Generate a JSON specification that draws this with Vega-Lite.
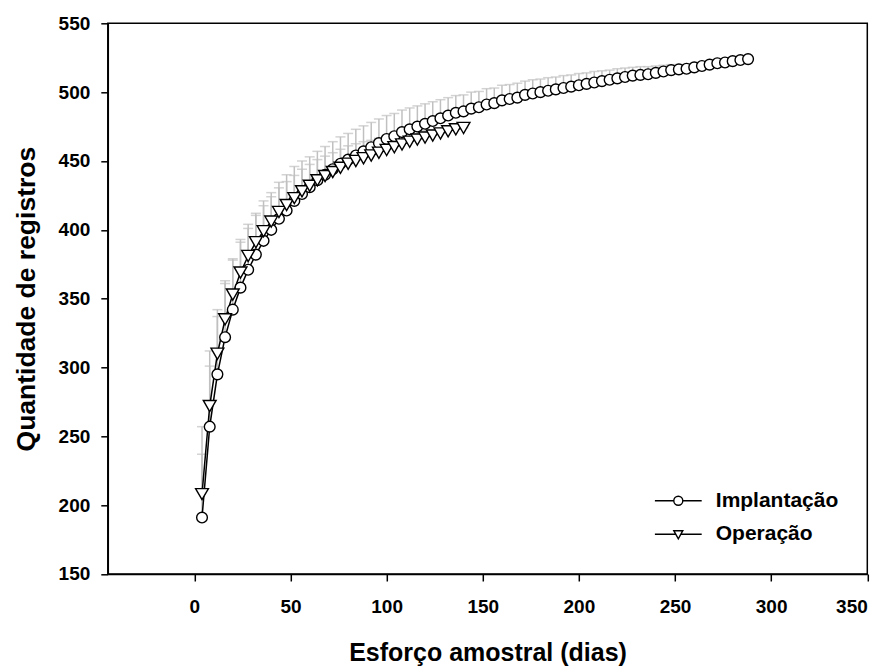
{
  "$schema": "https://vega.github.io/schema/vega-lite/v6.json",
  "width": 759.5,
  "height": 550.7,
  "autosize": "none",
  "padding": {"left": 107.8, "top": 23.3, "right": 20, "bottom": 92},
  "background": "white",
  "config": {
    "font": "Liberation Sans",
    "view": {"stroke": "black", "strokeWidth": 1.5},
    "axis": {
      "grid": false,
      "domainColor": "black",
      "domainWidth": 1.5,
      "tickColor": "black",
      "tickWidth": 1.5,
      "tickSize": 7,
      "labelFont": "Liberation Sans",
      "labelFontWeight": "bold",
      "labelFontSize": 19,
      "labelColor": "black",
      "titleFont": "Liberation Sans",
      "titleFontWeight": "bold",
      "titleFontSize": 25,
      "titleColor": "black"
    },
    "axisX": {"labelPadding": 17, "titlePadding": 24},
    "axisY": {"labelPadding": 11, "titlePadding": 18, "titleFontSize": 26.5}
  },
  "data": {
    "values": [
      {"s": "Implantação", "x": 4, "y": 191, "hi": 237},
      {"s": "Implantação", "x": 8, "y": 257, "hi": 301},
      {"s": "Implantação", "x": 12, "y": 295, "hi": 337},
      {"s": "Implantação", "x": 16, "y": 322, "hi": 361},
      {"s": "Implantação", "x": 20, "y": 342, "hi": 379},
      {"s": "Implantação", "x": 24, "y": 358, "hi": 393},
      {"s": "Implantação", "x": 28, "y": 371, "hi": 404},
      {"s": "Implantação", "x": 32, "y": 382, "hi": 412},
      {"s": "Implantação", "x": 36, "y": 392, "hi": 421},
      {"s": "Implantação", "x": 40, "y": 400, "hi": 427},
      {"s": "Implantação", "x": 44, "y": 408, "hi": 434.5},
      {"s": "Implantação", "x": 48, "y": 414, "hi": 440},
      {"s": "Implantação", "x": 52, "y": 421, "hi": 446},
      {"s": "Implantação", "x": 56, "y": 426, "hi": 450},
      {"s": "Implantação", "x": 60, "y": 431, "hi": 453},
      {"s": "Implantação", "x": 64, "y": 436, "hi": 457},
      {"s": "Implantação", "x": 68, "y": 440, "hi": 460.5},
      {"s": "Implantação", "x": 72, "y": 444, "hi": 464},
      {"s": "Implantação", "x": 76, "y": 448, "hi": 467.5},
      {"s": "Implantação", "x": 80, "y": 451, "hi": 470},
      {"s": "Implantação", "x": 84, "y": 454, "hi": 473},
      {"s": "Implantação", "x": 88, "y": 457, "hi": 475.5},
      {"s": "Implantação", "x": 92, "y": 460, "hi": 478},
      {"s": "Implantação", "x": 96, "y": 463, "hi": 480.5},
      {"s": "Implantação", "x": 100, "y": 466, "hi": 483},
      {"s": "Implantação", "x": 104, "y": 468, "hi": 484.5},
      {"s": "Implantação", "x": 108, "y": 471, "hi": 487},
      {"s": "Implantação", "x": 112, "y": 473, "hi": 488.5},
      {"s": "Implantação", "x": 116, "y": 475, "hi": 490},
      {"s": "Implantação", "x": 120, "y": 477, "hi": 491.5},
      {"s": "Implantação", "x": 124, "y": 479, "hi": 493},
      {"s": "Implantação", "x": 128, "y": 481, "hi": 494.5},
      {"s": "Implantação", "x": 132, "y": 483, "hi": 496},
      {"s": "Implantação", "x": 136, "y": 485, "hi": 497.5},
      {"s": "Implantação", "x": 140, "y": 486, "hi": 498},
      {"s": "Implantação", "x": 144, "y": 488, "hi": 500},
      {"s": "Implantação", "x": 148, "y": 489, "hi": 500.5},
      {"s": "Implantação", "x": 152, "y": 491, "hi": 502.5},
      {"s": "Implantação", "x": 156, "y": 492, "hi": 503},
      {"s": "Implantação", "x": 160, "y": 494, "hi": 505},
      {"s": "Implantação", "x": 164, "y": 495, "hi": 505.5},
      {"s": "Implantação", "x": 168, "y": 496, "hi": 506.5},
      {"s": "Implantação", "x": 172, "y": 498, "hi": 508},
      {"s": "Implantação", "x": 176, "y": 499, "hi": 509},
      {"s": "Implantação", "x": 180, "y": 500, "hi": 509.5},
      {"s": "Implantação", "x": 184, "y": 501, "hi": 510.5},
      {"s": "Implantação", "x": 188, "y": 502, "hi": 511},
      {"s": "Implantação", "x": 192, "y": 503, "hi": 512},
      {"s": "Implantação", "x": 196, "y": 504, "hi": 512.5},
      {"s": "Implantação", "x": 200, "y": 505, "hi": 513.5},
      {"s": "Implantação", "x": 204, "y": 506, "hi": 514},
      {"s": "Implantação", "x": 208, "y": 507, "hi": 515},
      {"s": "Implantação", "x": 212, "y": 508, "hi": 515.5},
      {"s": "Implantação", "x": 216, "y": 509, "hi": 516},
      {"s": "Implantação", "x": 220, "y": 510, "hi": 517},
      {"s": "Implantação", "x": 224, "y": 511, "hi": 517.5},
      {"s": "Implantação", "x": 228, "y": 512, "hi": 518},
      {"s": "Implantação", "x": 232, "y": 512.5, "hi": 518.5},
      {"s": "Implantação", "x": 236, "y": 513, "hi": 518.5},
      {"s": "Implantação", "x": 240, "y": 514, "hi": 519},
      {"s": "Implantação", "x": 244, "y": 515, "hi": 519.5},
      {"s": "Implantação", "x": 248, "y": 516, "hi": 520},
      {"s": "Implantação", "x": 252, "y": 516.5, "hi": 520},
      {"s": "Implantação", "x": 256, "y": 517, "hi": 520},
      {"s": "Implantação", "x": 260, "y": 518, "hi": 520.5},
      {"s": "Implantação", "x": 264, "y": 519, "hi": 521},
      {"s": "Implantação", "x": 268, "y": 520, "hi": 521.5},
      {"s": "Implantação", "x": 272, "y": 521, "hi": 522},
      {"s": "Implantação", "x": 276, "y": 521.5, "hi": 522},
      {"s": "Implantação", "x": 280, "y": 522.5, "hi": 522.5},
      {"s": "Implantação", "x": 284, "y": 523.3, "hi": 523.3},
      {"s": "Implantação", "x": 288, "y": 524, "hi": 524},
      {"s": "Operação", "x": 4, "y": 208, "hi": 257},
      {"s": "Operação", "x": 8, "y": 272, "hi": 312},
      {"s": "Operação", "x": 12, "y": 310, "hi": 342},
      {"s": "Operação", "x": 16, "y": 335, "hi": 363},
      {"s": "Operação", "x": 20, "y": 353, "hi": 378},
      {"s": "Operação", "x": 24, "y": 369, "hi": 391},
      {"s": "Operação", "x": 28, "y": 381, "hi": 401},
      {"s": "Operação", "x": 32, "y": 391, "hi": 410.5},
      {"s": "Operação", "x": 36, "y": 399, "hi": 417.5},
      {"s": "Operação", "x": 40, "y": 406, "hi": 424},
      {"s": "Operação", "x": 44, "y": 413, "hi": 430.5},
      {"s": "Operação", "x": 48, "y": 418, "hi": 435},
      {"s": "Operação", "x": 52, "y": 423, "hi": 439.5},
      {"s": "Operação", "x": 56, "y": 428, "hi": 444},
      {"s": "Operação", "x": 60, "y": 432, "hi": 447.5},
      {"s": "Operação", "x": 64, "y": 436, "hi": 451},
      {"s": "Operação", "x": 68, "y": 439, "hi": 453.5},
      {"s": "Operação", "x": 72, "y": 442, "hi": 456},
      {"s": "Operação", "x": 76, "y": 445, "hi": 458.5},
      {"s": "Operação", "x": 80, "y": 448, "hi": 461},
      {"s": "Operação", "x": 84, "y": 450, "hi": 462.5},
      {"s": "Operação", "x": 88, "y": 452, "hi": 464},
      {"s": "Operação", "x": 92, "y": 454, "hi": 465},
      {"s": "Operação", "x": 96, "y": 456, "hi": 466.5},
      {"s": "Operação", "x": 100, "y": 458, "hi": 468},
      {"s": "Operação", "x": 104, "y": 460, "hi": 469},
      {"s": "Operação", "x": 108, "y": 462, "hi": 470},
      {"s": "Operação", "x": 112, "y": 464, "hi": 471},
      {"s": "Operação", "x": 116, "y": 465.5, "hi": 471.5},
      {"s": "Operação", "x": 120, "y": 467, "hi": 472},
      {"s": "Operação", "x": 124, "y": 468.5, "hi": 472.5},
      {"s": "Operação", "x": 128, "y": 470, "hi": 473},
      {"s": "Operação", "x": 132, "y": 471.5, "hi": 473.5},
      {"s": "Operação", "x": 136, "y": 473, "hi": 474},
      {"s": "Operação", "x": 140, "y": 474, "hi": 474}
    ]
  },
  "layer": [
    {
      "mark": {"type": "rule", "color": "#c0c0c0", "strokeWidth": 1.5},
      "encoding": {
        "x": {"field": "x", "type": "quantitative", "title": "Esforço amostral (dias)",
              "scale": {"domain": [-45, 350], "nice": false, "zero": false},
              "axis": {"values": [0, 50, 100, 150, 200, 250, 300, 350]}},
        "y": {"field": "y", "type": "quantitative", "title": "Quantidade de registros",
              "scale": {"domain": [150, 550], "nice": false, "zero": false},
              "axis": {"values": [150, 200, 250, 300, 350, 400, 450, 500, 550]}},
        "y2": {"field": "hi"}
      }
    },
    {
      "mark": {"type": "tick", "orient": "horizontal", "color": "#c0c0c0", "size": 10, "thickness": 1.5},
      "encoding": {
        "x": {"field": "x", "type": "quantitative", "title": "Esforço amostral (dias)"},
        "y": {"field": "hi", "type": "quantitative", "title": "Quantidade de registros"}
      }
    },
    {
      "mark": {"type": "line", "color": "black", "strokeWidth": 1.5},
      "encoding": {
        "x": {"field": "x", "type": "quantitative", "title": "Esforço amostral (dias)"},
        "y": {"field": "y", "type": "quantitative", "title": "Quantidade de registros"},
        "detail": {"field": "s", "type": "nominal"}
      }
    },
    {
      "transform": [{"filter": "datum.s == 'Implantação'"}],
      "mark": {"type": "point", "shape": "circle", "size": 115, "filled": true, "fill": "white", "stroke": "black", "strokeWidth": 1.4, "opacity": 1},
      "encoding": {
        "x": {"field": "x", "type": "quantitative", "title": "Esforço amostral (dias)"},
        "y": {"field": "y", "type": "quantitative", "title": "Quantidade de registros"}
      }
    },
    {
      "transform": [{"filter": "datum.s == 'Operação'"}],
      "mark": {"type": "point", "shape": "triangle-down", "size": 165, "filled": true, "fill": "white", "stroke": "black", "strokeWidth": 1.4, "opacity": 1},
      "encoding": {
        "x": {"field": "x", "type": "quantitative", "title": "Esforço amostral (dias)"},
        "y": {"field": "y", "type": "quantitative", "title": "Quantidade de registros"}
      }
    },
    {
      "mark": {"type": "point", "filled": false, "stroke": "black", "strokeWidth": 1.4, "opacity": 0},
      "encoding": {
        "x": {"field": "x", "type": "quantitative", "title": "Esforço amostral (dias)"},
        "y": {"field": "y", "type": "quantitative", "title": "Quantidade de registros"},
        "shape": {
          "field": "s", "type": "nominal",
          "scale": {"domain": ["Implantação", "Operação"],
                    "range": ["M-5.2,0L-1,0M1,0L5.2,0M-1,0A1,1,0,1,1,1,0A1,1,0,1,1,-1,0Z",
                              "M-5.2,0L-0.56,0M0.56,0L5.2,0M-1,-0.8L1,-0.8L0,1Z"]},
          "legend": {
            "orient": "none", "legendX": 560, "legendY": 467, "title": null, "padding": 0,
            "symbolSize": 81, "symbolStrokeWidth": 1.4, "symbolFillColor": "white", "symbolStrokeColor": "black", "symbolOpacity": 1,
            "labelFont": "Liberation Sans", "labelFontWeight": "bold", "labelFontSize": 21, "labelColor": "black",
            "labelOffset": 27, "rowPadding": 11.5
          }
        }
      }
    }
  ]
}
